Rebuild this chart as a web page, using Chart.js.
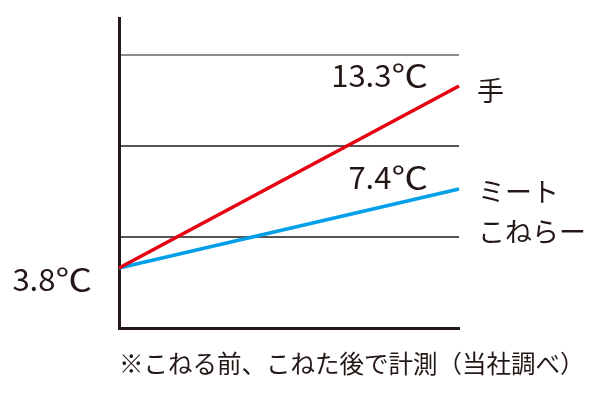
<!DOCTYPE html>
<html>
<head>
<meta charset="utf-8">
<script src="https://cdn.jsdelivr.net/npm/chart.js"></script>
<style>
  html, body { margin: 0; padding: 0; background: #fff; }
  #wrap { width: 600px; height: 400px; }
</style>
</head>
<body>
<div id="wrap"><canvas id="chart" width="600" height="400"></canvas></div>
<script>
// data
const stages = ["こねる前", "こねた後"];
const handTemps = [3.8, 13.3];
const readerTemps = [3.8, 7.4];
const handLabel = ["手"];
const readerLabel = ["ミート", "こねらー"];
const gridValues = [1, 2, 3];
const footnote = "※こねる前、こねた後で計測（当社調べ）";

const INK = "#231815";
const RED = "#e60012";
const BLUE = "#00a0e9";
const numFont = '31px "Noto Sans CJK JP", "Noto Sans", sans-serif';
const jpFont = '27px "Noto Sans CJK JP", sans-serif';

// value text with a slightly wider ℃ like the original
function drawTemp(ctx, v, right, base) {
  const unit = "℃";
  const num = v.toFixed(1);
  const uw = ctx.measureText(unit).width;
  const unitW = uw * 1.18;
  ctx.textAlign = "left";
  ctx.save();
  ctx.translate(right - unitW, base);
  ctx.scale(1.18, 1);
  ctx.fillText(unit, 0, 0);
  ctx.restore();
  ctx.textAlign = "right";
  ctx.fillText(num, right - unitW, base);
}

const labelsPlugin = {
  id: "labels",
  afterDatasetsDraw(chart) {
    const ctx = chart.ctx;
    const red = chart.getDatasetMeta(0).data;
    const blue = chart.getDatasetMeta(1).data;
    ctx.save();
    ctx.fillStyle = INK;

    // values
    ctx.font = numFont;
    ctx.textBaseline = "alphabetic";
    drawTemp(ctx, handTemps[1], red[1].x - 31, red[1].y + 1);
    drawTemp(ctx, readerTemps[1], blue[1].x - 31, blue[1].y);
    drawTemp(ctx, handTemps[0], red[0].x - 27, red[0].y + 23);

    // series names
    ctx.font = jpFont;
    ctx.textAlign = "left";
    ctx.textBaseline = "middle";
    ctx.fillText(handLabel[0], red[1].x + 18, red[1].y + 5);
    readerLabel.forEach((t, i) => {
      ctx.fillText(t, blue[1].x + 19, blue[1].y + 3 + i * 40);
    });

    // note under the chart
    ctx.font = '24.5px "Noto Sans CJK JP", sans-serif';
    ctx.fillText(footnote, chart.chartArea.left, chart.chartArea.bottom + 36);
    ctx.restore();
  }
};

new Chart(document.getElementById("chart"), {
  type: "line",
  data: {
    labels: stages,
    datasets: [
      { label: handLabel[0], data: handTemps, borderColor: RED, borderWidth: 3.5, yAxisID: "yRed" },
      { label: readerLabel.join(""), data: readerTemps, borderColor: BLUE, borderWidth: 3.5, yAxisID: "yBlue" }
    ]
  },
  options: {
    responsive: false,
    animation: false,
    layout: { padding: { left: 119, right: 141, top: 18, bottom: 72 } },
    elements: { point: { radius: 0 }, line: { tension: 0 } },
    plugins: { legend: { display: false }, tooltip: { enabled: false } },
    scales: {
      x: {
        offset: false,
        grid: { display: false },
        ticks: { display: false },
        border: { color: INK, width: 3 },
        afterFit(s) { s.height = 0; }
      },
      y: {
        position: "left",
        min: 0,
        max: 310 / 91,
        afterBuildTicks(s) { s.ticks = gridValues.map(v => ({ value: v })); },
        ticks: { display: false },
        grid: {
          drawTicks: false,
          lineWidth: 2,
          color: c => c.tick && c.tick.value === 3 ? "#8c8c8c" : "#555"
        },
        border: { color: INK, width: 3 },
        afterFit(s) { s.width = 0; }
      },
      yRed: { display: false, min: 0.668, max: 16.849 },
      yBlue: { display: false, min: 1.065, max: 15.195 }
    }
  },
  plugins: [labelsPlugin]
});
</script>
</body>
</html>
